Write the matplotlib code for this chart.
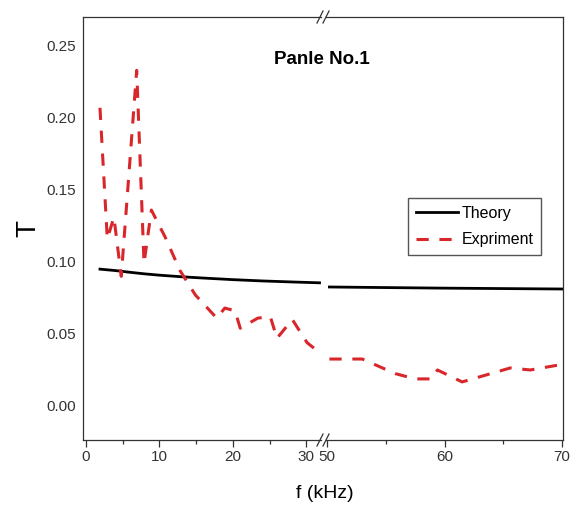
import matplotlib.pyplot as plt
from matplotlib.lines import Line2D

plt.rcParams['font.family'] = ['Liberation Sans', 'DejaVu Sans']

# theory curve, low and high frequency parts (kHz, T)
theory_f_lo = [1.9, 4, 6, 8, 10, 13, 16, 20, 24, 28, 31.8]
theory_t_lo = [0.0950, 0.0940, 0.0928, 0.0917, 0.0908, 0.0897, 0.0888, 0.0877, 0.0868, 0.0861, 0.0855]
theory_f_hi = [50.2, 55, 60, 65, 70.1]
theory_t_hi = [0.0826, 0.0822, 0.0818, 0.0815, 0.0812]

# experiment
exp_f_lo = [1.9, 2.9, 3.8, 4.8, 6.9, 7.9, 8.9, 10.8, 12.8, 14.9, 17.8, 18.9, 20.3,
            21.0, 23.4, 25.1, 26.0, 28.1, 30.1, 31.8]
exp_t_lo = [0.207, 0.116, 0.131, 0.090, 0.233, 0.099, 0.136, 0.117, 0.094, 0.077, 0.061,
            0.068, 0.066, 0.054, 0.061, 0.062, 0.047, 0.060, 0.044, 0.037]
exp_f_hi = [50.2, 53.0, 55.8, 57.5, 58.9, 59.4, 61.5, 65.6, 67.3, 70.1]
exp_t_hi = [0.0326, 0.0326, 0.0225, 0.0188, 0.0188, 0.0250, 0.0167, 0.0264, 0.0250, 0.0290]

W, H = 574, 507
red = '#d9262b'
dash = (0, (4, 3.5))
spine_col = '#333333'

fig = plt.figure(figsize=(W / 100, H / 100), dpi=100)
ax1 = fig.add_axes([83 / W, 67 / H, 238 / W, 423 / H])
ax2 = fig.add_axes([326 / W, 67 / H, 237 / W, 423 / H])

ax1.plot(theory_f_lo, theory_t_lo, color='black', lw=2.0)
ax1.plot(exp_f_lo, exp_t_lo, color=red, lw=2.2, linestyle=dash)
ax2.plot(theory_f_hi, theory_t_hi, color='black', lw=2.0, label='Theory')
ax2.plot(exp_f_hi, exp_t_hi, color=red, lw=2.2, linestyle=dash, label='Expriment')

for ax in (ax1, ax2):
    ax.set_ylim(-0.0236, 0.270)
    for s in ax.spines.values():
        s.set_color(spine_col)
        s.set_linewidth(0.9)
    ax.tick_params(axis='x', which='major', direction='out', length=5, width=0.9,
                   color=spine_col, labelsize=11, labelcolor='#333333', pad=2)
    ax.tick_params(axis='x', which='minor', direction='out', length=3, width=0.9,
                   color=spine_col)

ax1.set_xlim(-0.41, 32.0)
ax1.set_xticks([0, 10, 20, 30])
ax1.set_xticks([5, 15, 25], minor=True)
ax1.spines['right'].set_visible(False)
ax1.set_yticks([0.00, 0.05, 0.10, 0.15, 0.20, 0.25])
ax1.set_yticklabels(['0.00', '0.05', '0.10', '0.15', '0.20', '0.25'])
ax1.tick_params(axis='y', length=0, labelsize=11, labelcolor='#333333', pad=5)

ax2.set_xlim(49.91, 70.09)
ax2.set_xticks([50, 60, 70])
ax2.set_xticks([55, 65], minor=True)
ax2.spines['left'].set_visible(False)
ax2.tick_params(axis='y', left=False, labelleft=False)

# axis break marks
for cx in (320, 326):
    for cy in (17, 440):
        fig.add_artist(Line2D([(cx - 3) / W, (cx + 3) / W],
                              [1 - (cy + 6) / H, 1 - (cy - 6) / H],
                              transform=fig.transFigure, color=spine_col, lw=0.9))

fig.text(322 / W, 1 - 60 / H, 'Panle No.1', ha='center', va='center',
         fontsize=13.5, fontweight='bold')
fig.text(325 / W, 1 - 493 / H, 'f (kHz)', ha='center', va='center', fontsize=14)
fig.text(28 / W, 1 - 228 / H, 'T', ha='center', va='center', fontsize=20, rotation=90)

ax2.legend(loc='upper left', bbox_to_anchor=(408 / W, 1 - 198 / H),
           bbox_transform=fig.transFigure, borderaxespad=0, fancybox=False,
           framealpha=1, edgecolor='#555555', fontsize=11.5, handlelength=2.6,
           handletextpad=0.25, borderpad=0.5, labelspacing=0.7)

fig.savefig('out.png', dpi=100)
